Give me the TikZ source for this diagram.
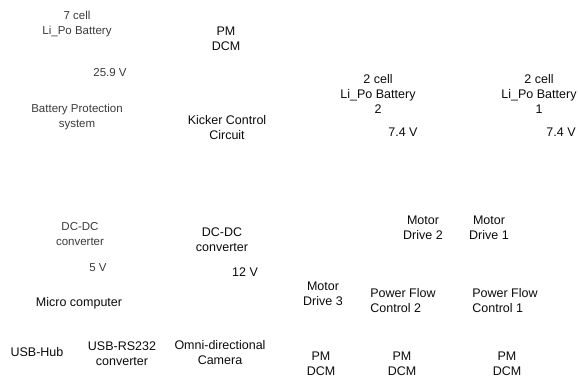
\documentclass[tikz,border=0pt]{standalone}
\usepackage{fontspec}
\setmainfont{Liberation Sans}
\usepackage{tikz}
\usetikzlibrary{positioning}
\definecolor{tinta}{HTML}{0B0B0B}
\definecolor{tenue}{HTML}{3A3A3A}

\begin{document}
\begin{tikzpicture}[x=1pt,y=-1pt,
    etiqueta/.style={inner sep=0pt,align=center,
                     font=\fontsize{12.5}{15}\selectfont\color{tinta}},
    tenueTxt/.style={etiqueta,font=\fontsize{11.5}{15}\selectfont\color{tenue}},
    izq/.style={etiqueta,align=left}]
  \useasboundingbox (0,0) rectangle (578,379);
  % fuente y proteccion
  \node[tenueTxt] (bat7) at (77,24) {7 cell\\Li\_Po Battery};
  \node[tenueTxt] (v259) at (110,73) {25.9 V};
  \node[tenueTxt] (prot) at (77,117) {Battery Protection\\system};
  \node[etiqueta] (pmTop) at (226,39) {PM\\DCM};
  \node[etiqueta] (kick) at (227,128) {Kicker Control\\Circuit};
  % baterias de 2 celdas
  \node[etiqueta] (bat2) at (378,94) {2 cell\\Li\_Po Battery\\2};
  \node[etiqueta] (v74a) at (403,132) {7.4 V};
  \node[etiqueta] (bat1) at (539,94) {2 cell\\Li\_Po Battery\\1};
  \node[etiqueta] (v74b) at (561,132) {7.4 V};
  % conversores
  \node[tenueTxt] (dcA) at (80,234) {DC-DC\\converter};
  \node[tenueTxt] (v5) at (98,268) {5 V};
  \node[etiqueta] (dcB) at (222,240) {DC-DC\\converter};
  \node[etiqueta] (v12) at (245,272) {12 V};
  \node[etiqueta] (micro) at (79,303) {Micro computer};
  \node[etiqueta] (hub) at (37,352) {USB-Hub};
  \node[etiqueta] (rs232) at (122,354) {USB-RS232\\converter};
  \node[etiqueta] (cam) at (220,353) {Omni-directional\\Camera};
  % motores
  \node[etiqueta] (md2) at (423,228) {Motor\\Drive 2};
  \node[etiqueta] (md1) at (489,228) {Motor\\Drive 1};
  \node[etiqueta] (md3) at (323,294) {Motor\\Drive 3};
  \node[izq] (pf2) at (403,301) {Power Flow\\Control 2};
  \node[izq] (pf1) at (505,301) {Power Flow\\Control 1};
  \node[etiqueta] (pm3) at (321,364) {PM\\DCM};
  \node[etiqueta] (pm2) at (402,364) {PM\\DCM};
  \node[etiqueta] (pm1) at (507,364) {PM\\DCM};
\end{tikzpicture}
\end{document}
